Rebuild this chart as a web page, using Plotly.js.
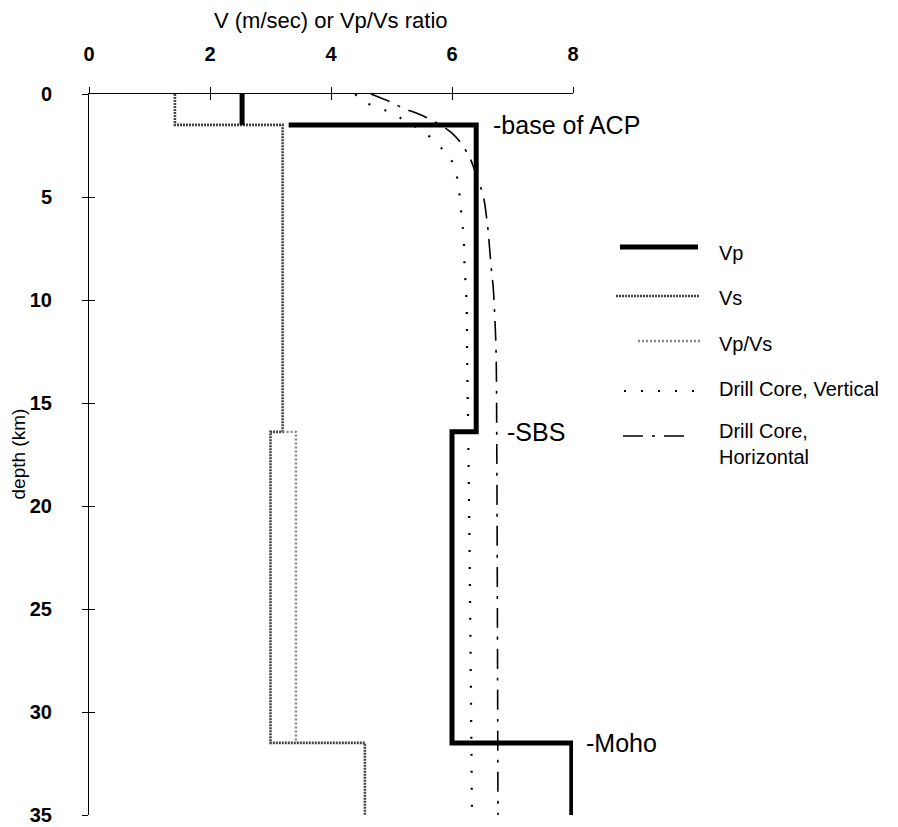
<!DOCTYPE html>
<html>
<head>
<meta charset="utf-8">
<script src="https://cdn.plot.ly/plotly-3.0.1.min.js"></script>
<style>
  html, body { margin: 0; padding: 0; background: #fff; }
  #chart { width: 898px; height: 827px; }
</style>
</head>
<body>
<div id="chart"></div>
<script>
// Layered P-wave velocity (km/s) against depth (km); the gap leaves room for the Vs step
const vpDepth = [0, 1.5, null, 1.5, 1.5, 16.4, 16.4, 31.5, 31.5, 35];
const vpValue = [2.53, 2.53, null, 3.3, 6.4, 6.4, 6.0, 6.0, 7.98, 7.98];

// Layered S-wave velocity
const vsDepth = [0, 1.5, 1.5, 16.4, 16.4, 31.5, 31.5, 35];
const vsValue = [1.42, 1.42, 3.2, 3.2, 3.0, 3.0, 4.56, 4.56];

// Vp/Vs branch through the lower crust
const vpvsDepth = [16.4, 16.4, 31.5];
const vpvsValue = [3.2, 3.42, 3.42];

// Laboratory drill-core velocities, vertical direction
const dcvDepth = [0, 0.37, 0.68, 1.1, 2.0, 2.7, 3.1, 4.0, 5.05, 6.0, 6.85, 8.5, 10.1, 12.75, 17, 25, 35];
const dcvValue = [4.4, 4.53, 4.81, 5.11, 5.6, 5.85, 5.97, 6.08, 6.13, 6.16, 6.19, 6.21, 6.24, 6.25, 6.27, 6.3, 6.33];

// Laboratory drill-core velocities, horizontal direction
const dchDepth = [0, 0.37, 0.68, 1.1, 1.9, 2.9, 4.0, 5.0, 5.96, 6.75, 8.5, 9.35, 11.0, 12.75, 17, 25, 35];
const dchValue = [4.66, 4.97, 5.19, 5.55, 6.0, 6.26, 6.41, 6.52, 6.57, 6.6, 6.65, 6.68, 6.71, 6.73, 6.74, 6.75, 6.76];

const xTicks = [0, 2, 4, 6, 8];
const yTicks = [0, 5, 10, 15, 20, 25, 30, 35];

// Boundary labels and their depths
const boundaryNames = ['-base of ACP', '-SBS', '-Moho'];
const boundaryDepths = [1.5, 16.4, 31.5];

const legendNames = ['Vp', 'Vs', 'Vp/Vs', 'Drill Core, Vertical', 'Drill Core,<br>Horizontal'];

// plot-area geometry (pixels)
const W = 898, H = 827;
const L = 89, R = 573, T = 94, B = 815;
const px = X => (X - L) / (R - L);
const py = Y => 1 - (Y - T) / (B - T);
const depthToPaper = d => 1 - d / 35;

const FONT = 'Liberation Sans, Arial, Helvetica, sans-serif';

const styleVp = { color: '#000', width: 5 };
const styleVs = { color: '#444', width: 2.6, dash: '2px,1px' };
const styleVpVs = { color: '#888', width: 2.4, dash: '2px,2px' };
const styleDcv = { color: '#000', width: 2.2, dash: '2px,15px' };
const styleDch = { color: '#000', width: 1.6, dash: '20px,9px,3px,9px' };

const traces = [
  { x: vsValue, y: vsDepth, mode: 'lines', line: styleVs, name: 'Vs' },
  { x: vpvsValue, y: vpvsDepth, mode: 'lines', line: styleVpVs, name: 'Vp/Vs' },
  { x: dcvValue, y: dcvDepth, mode: 'lines', line: Object.assign({ shape: 'spline' }, styleDcv), name: 'Drill Core, Vertical' },
  { x: dchValue, y: dchDepth, mode: 'lines', line: Object.assign({ shape: 'spline' }, styleDch), name: 'Drill Core, Horizontal' },
  { x: vpValue, y: vpDepth, mode: 'lines', line: styleVp, name: 'Vp', connectgaps: false },
  // carries the mirrored tick marks that make the ticks cross the axis lines
  { x: [null], y: [null], xaxis: 'x2', yaxis: 'y2', mode: 'lines', showlegend: false, hoverinfo: 'skip' }
];

const axisCommon = {
  showgrid: false, zeroline: false, showline: true,
  linecolor: '#000', linewidth: 1,
  ticks: 'outside', ticklen: 6, tickwidth: 1, tickcolor: '#000',
  fixedrange: true
};

const tickFont = { family: FONT, size: 20, color: '#000', weight: 'bold' };

// legend built from sample strokes and labels in paper space
const legendRows = [
  { y: 247, x0: 620, x1: 698, line: styleVp, ty: 253 },
  { y: 296, x0: 616, x1: 700, line: styleVs, ty: 298 },
  { y: 341, x0: 638, x1: 700, line: styleVpVs, ty: 344 },
  { y: 391, x0: 624, x1: 698, line: styleDcv, ty: 389 },
  { y: 436, x0: 623, x1: 692, line: styleDch, ty: 444 }
];

const shapes = legendRows.map(r => ({
  type: 'line', xref: 'paper', yref: 'paper',
  x0: px(r.x0), x1: px(r.x1), y0: py(r.y), y1: py(r.y),
  line: r.line
}));

const annotations = [];
legendRows.forEach((r, i) => {
  annotations.push({
    text: legendNames[i], xref: 'paper', yref: 'paper',
    x: px(717), y: py(r.ty), xanchor: 'left', yanchor: 'middle', align: 'left',
    showarrow: false, font: { family: FONT, size: 20, color: '#000' }
  });
});

const boundaryLeft = [491, 505, 584];
boundaryNames.forEach((n, i) => {
  annotations.push({
    text: n, xref: 'paper', yref: 'paper', x: px(boundaryLeft[i]), y: depthToPaper(boundaryDepths[i]),
    xanchor: 'left', yanchor: 'middle', showarrow: false,
    font: { family: FONT, size: 25, color: '#000' }
  });
});

// axis titles
annotations.push({
  text: 'V (m/sec) or Vp/Vs ratio', xref: 'paper', yref: 'paper',
  x: 0.5, y: py(20), xanchor: 'center', yanchor: 'middle', showarrow: false,
  font: { family: FONT, size: 22, color: '#000' }
});
annotations.push({
  text: 'depth (km)', xref: 'paper', yref: 'paper', textangle: -90,
  x: px(18), y: 0.5, xanchor: 'center', yanchor: 'middle', showarrow: false,
  font: { family: 'Liberation Sans Narrow, ' + FONT, size: 19, color: '#000' }
});

const layout = {
  width: W, height: H,
  margin: { l: L, r: W - R, t: T, b: H - B, pad: 0 },
  paper_bgcolor: '#fff', plot_bgcolor: '#fff',
  showlegend: false,
  xaxis: Object.assign({}, axisCommon, {
    range: [0, 8], side: 'top', anchor: 'y',
    tickvals: xTicks, ticktext: xTicks.map(String),
    tickfont: tickFont, ticklabelstandoff: 18
  }),
  yaxis: Object.assign({}, axisCommon, {
    range: [35, 0], anchor: 'x',
    tickvals: yTicks, ticktext: yTicks.map(String),
    tickfont: tickFont, ticklabelstandoff: 26
  }),
  xaxis2: Object.assign({}, axisCommon, {
    range: [0, 8], side: 'top', overlaying: 'x', anchor: 'y2',
    tickvals: xTicks, ticks: 'inside', showticklabels: false, showline: false
  }),
  yaxis2: Object.assign({}, axisCommon, {
    range: [35, 0], overlaying: 'y', anchor: 'x2', side: 'left',
    tickvals: yTicks, ticks: 'inside', showticklabels: false, showline: false
  }),
  shapes: shapes,
  annotations: annotations
};

Plotly.newPlot('chart', traces, layout, { staticPlot: true, displayModeBar: false });
</script>
</body>
</html>
